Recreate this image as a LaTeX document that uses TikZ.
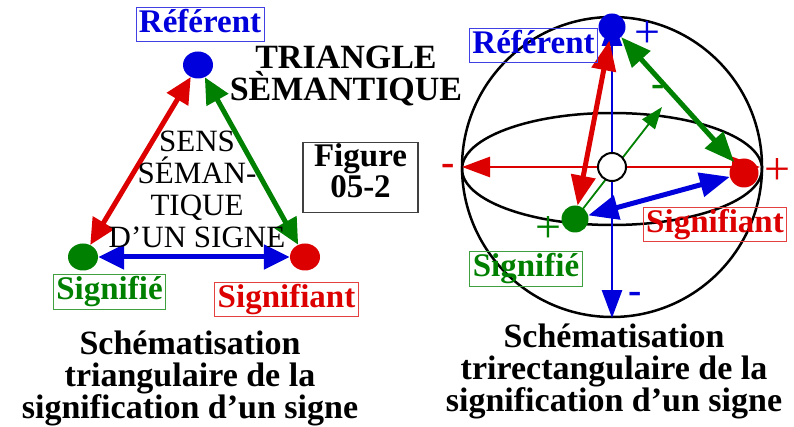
\documentclass[tikz,border=0pt]{standalone}
\usepackage{fontspec}
\setmainfont{Liberation Serif}
\usepackage{tikz}
\usetikzlibrary{arrows,arrows.meta,shapes,shapes.geometric,calc}
\usepackage{xcolor}
\definecolor{sigblue}{RGB}{0,0,220}
\definecolor{sigred}{RGB}{220,0,0}
\definecolor{siggreen}{RGB}{0,128,0}

\begin{document}
\begin{tikzpicture}[x=1pt, y=-1pt,
		labelbox/.style={draw, line width=0.8pt, font=\bfseries\fontsize{33}{32}\selectfont,
			inner xsep=3pt, inner ysep=1pt, text height=24pt, text depth=8.5pt},
		dotL/.style={ellipse, inner sep=0pt, minimum width=30pt, minimum height=27pt},
		dotR/.style={circle, inner sep=0pt, minimum size=27pt},
		linkL/.style={line width=5pt, {Triangle[length=26pt,width=24pt]}-{Triangle[length=26pt,width=24pt]}},
		linkR/.style={line width=5pt, {Triangle[length=30pt,width=24pt]}-{Triangle[length=30pt,width=24pt]}},
		axisline/.style={line width=2.8pt, {Triangle[length=28pt,width=20pt]}-{Triangle[length=28pt,width=20pt]}},
		plussign/.style={font=\fontsize{46}{46}\selectfont, inner sep=0pt},
		minussign/.style={font=\bfseries\fontsize{40}{40}\selectfont, inner sep=0pt},
		caption/.style={align=center, font=\bfseries\fontsize{34}{32}\selectfont, inner sep=0pt, anchor=north}
	]
	\useasboundingbox (0,0) rectangle (794,427);

	% === Triangle: dots ===
	\node[dotL, fill=sigblue]  (refL)      at (198,65)  {};
	\node[dotL, fill=siggreen] (sigfieL)   at (83,257)  {};
	\node[dotL, fill=sigred]   (sigfiantL) at (305,257) {};

	% === Triangle: sides ===
	\draw[linkL, sigred]   (sigfieL) -- (refL);
	\draw[linkL, siggreen] (refL) -- (sigfiantL);
	\draw[linkL, sigblue]  (sigfieL) -- (sigfiantL);

	% === Triangle: texts ===
	\node[labelbox, draw=sigblue!75, text=sigblue]     (refLbl)      at (200,24.5)  {Référent};
	\node[labelbox, draw=siggreen!75, text=siggreen]   (sigfieLbl)   at (109.5,292) {Signifié};
	\node[labelbox, draw=sigred!75, text=sigred]       (sigfiantLbl) at (286.5,299.5) {Signifiant};
	\node[caption] (title) at (346,46) {TRIANGLE\\SÈMANTIQUE};
	\node[align=center, anchor=north, inner sep=0pt, font=\fontsize{31}{32}\selectfont] (sens) at (197,131)
		{SENS\\SÉMAN-\\TIQUE\\D’UN SIGNE};
	\node[draw=black!75, line width=1.2pt, align=center, inner xsep=11pt, inner ysep=1pt,
		font=\bfseries\fontsize{33}{31}\selectfont] (fig) at (360.5,177.5) {Figure\\05-2\rule[-14pt]{0pt}{0pt}};
	\node[caption] (capL) at (190,331) {Schématisation\\triangulaire de la\\signification d’un signe};

	% === Sphere: outline ===
	\coordinate (O) at (612,167);
	\draw[line width=2.5pt] (O) circle[radius=150];
	\draw[line width=2.5pt] (612,169) ellipse[x radius=150, y radius=56];

	% === Sphere: axes ===
	\coordinate (xneg) at (462,167);  \coordinate (xpos) at (760,167);
	\coordinate (ytop) at (612,18);   \coordinate (ybot) at (612,318);
	\coordinate (zneg) at (575,219);  \coordinate (zpos) at (662,107);
	\draw[axisline, sigred]  (xneg) -- (xpos);
	\draw[axisline, sigblue] (ytop) -- (ybot);
	\draw[line width=1.8pt, siggreen, -{Triangle[length=22pt,width=16pt]}] (zneg) -- (zpos);
	\node[circle, draw, fill=white, line width=2pt, minimum size=28pt, inner sep=0pt] (origin) at (O) {};

	% === Sphere: dots ===
	\node[dotR, fill=sigblue]  (refR)      at (612,27)  {};
	\node[dotR, fill=siggreen] (sigfieR)   at (zneg)    {};
	\node[dotR, fill=sigred, minimum size=29pt] (sigfiantR) at (744,173) {};

	% === Sphere: links ===
	\draw[linkR, sigred]   (refR) -- (sigfieR);
	\draw[linkR, siggreen] (refR) -- (sigfiantR);
	\draw[linkR, sigblue]  (sigfieR) -- (sigfiantR);

	% === Sphere: signs ===
	\node[plussign, text=sigblue]    (yplus)  at (647,35)  {+};
	\node[minussign, text=sigblue]   (yminus) at (635,298) {-};
	\node[plussign, text=sigred]     (xplus)  at (777,172) {+};
	\node[minussign, text=sigred]    (xminus) at (448,170) {-};
	\node[plussign, text=siggreen]   (zplus)  at (548,230) {+};
	\node[minussign, text=siggreen]  (zminus) at (658,91)  {-};

	% === Sphere: texts ===
	\node[labelbox, draw=sigblue!75, text=sigblue]   (refRLbl)      at (533.5,45.5) {Référent};
	\node[labelbox, draw=sigred!75, text=sigred]     (sigfiantRLbl) at (715,224.5)  {Signifiant};
	\node[labelbox, draw=siggreen!75, text=siggreen] (sigfieRLbl)   at (526,269)    {Signifié};
	\node[caption] (capR) at (614,324) {Schématisation\\trirectangulaire de la\\signification d’un signe};
\end{tikzpicture}
\end{document}
